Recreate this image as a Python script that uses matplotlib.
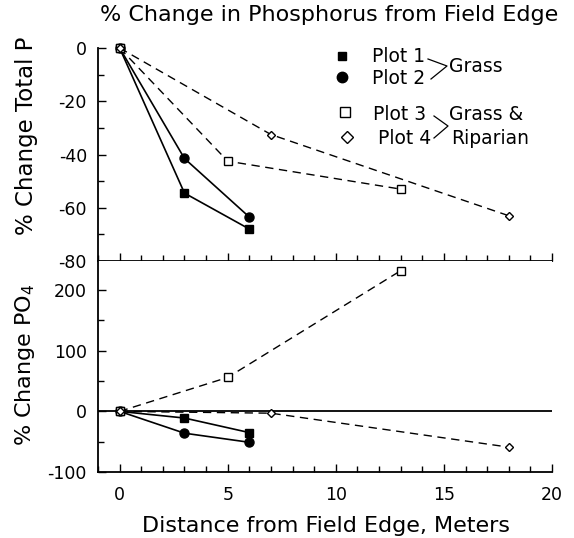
import matplotlib
matplotlib.use("Agg")
from matplotlib import pyplot as plt
from matplotlib.ticker import MultipleLocator

plt.rcParams['font.family'] = ['DejaVu Sans']
plt.rcParams['axes.unicode_minus'] = False

# distances (m) for each plot
dist_1 = [0, 3, 6]
dist_2 = [0, 3, 6]
dist_3 = [0, 5, 13]
dist_4 = [0, 7, 18]

# % change total P
total_p_1 = [0, -54.5, -68]
total_p_2 = [0, -41.5, -63.5]
total_p_3 = [0, -42.5, -53]
total_p_4 = [0, -32.5, -63]

# % change PO4
po4_1 = [0, -11, -35]
po4_2 = [0, -36, -51]
po4_3 = [0, 56, 232]
po4_4 = [0, -3, -59]

x_ticks = [0, 5, 10, 15, 20]
top_yticks = [0, -20, -40, -60, -80]
bottom_yticks = [-100, 0, 100, 200]

W, H = 574, 538
fig = plt.figure(figsize=(W / 100, H / 100), dpi=100)
x0, x1 = 98, 552
ax_top = fig.add_axes([x0 / W, 1 - 261 / H, (x1 - x0) / W, 213 / H])
ax_bot = fig.add_axes([x0 / W, 1 - 472 / H, (x1 - x0) / W, 211 / H])

dash = (0, (6, 4))


def draw_series(ax, p1, p2, p3, p4):
    ax.plot(dist_1, p1, color='black', lw=1.2, marker='s', ms=5.5, mfc='black', clip_on=False, zorder=5)
    ax.plot(dist_2, p2, color='black', lw=1.2, marker='o', ms=6.5, mfc='black', clip_on=False, zorder=5)
    ax.plot(dist_3, p3, color='black', lw=1.0, ls=dash, marker='s', ms=6,
            mfc='white', mew=1.0, clip_on=False, zorder=5)
    ax.plot(dist_4, p4, color='black', lw=1.0, ls=dash, marker='D', ms=4.5,
            mfc='white', mew=1.0, clip_on=False, zorder=5)


draw_series(ax_top, total_p_1, total_p_2, total_p_3, total_p_4)
draw_series(ax_bot, po4_1, po4_2, po4_3, po4_4)
ax_bot.axhline(0, color='black', lw=1.3, zorder=1)

for ax in (ax_top, ax_bot):
    ax.set_xlim(-1, 20)
    ax.xaxis.set_minor_locator(MultipleLocator(1))
    ax.set_xticks(x_ticks)
    ax.spines['right'].set_visible(False)
    ax.spines['top'].set_visible(False)
    ax.spines['left'].set_linewidth(1.3)
    ax.spines['bottom'].set_linewidth(1.3)
    ax.tick_params(which='both', direction='in', labelsize=12.5, width=1)
    ax.tick_params(which='major', length=6)
    ax.tick_params(which='minor', length=4)
    ax.tick_params(axis='y', pad=8)

ax_top.set_ylim(-80, 0)
ax_top.set_yticks(top_yticks)
ax_top.yaxis.set_minor_locator(MultipleLocator(10))
ax_top.tick_params(axis='x', labelbottom=False)

ax_bot.set_ylim(-100, 248)
ax_bot.set_yticks(bottom_yticks)
ax_bot.yaxis.set_minor_locator(MultipleLocator(50))
ax_bot.tick_params(axis='x', pad=10)

fig.text(27 / W, 1 - 136 / H, '% Change Total P', rotation=90,
         ha='center', va='center', fontsize=16.5)
fig.text(25 / W, 1 - 365 / H, '% Change PO$_4$', rotation=90,
         ha='center', va='center', fontsize=16)
fig.text(326 / W, 1 - 526 / H, 'Distance from Field Edge, Meters',
         ha='center', va='center', fontsize=16)
fig.text(329 / W, 1 - 15 / H, '% Change in Phosphorus from Field Edge',
         ha='center', va='center', fontsize=16)

# legend drawn by hand, positions in pixels of the top panel
leg = ax_top.transAxes
px = lambda x: (x - x0) / (x1 - x0)
py = lambda y: (261 - y) / 213
ax_top.plot([px(342)], [py(56)], 's', color='black', ms=6, transform=leg, clip_on=False)
ax_top.plot([px(342)], [py(77)], 'o', color='black', ms=7.5, transform=leg, clip_on=False)
ax_top.plot([px(345)], [py(112)], 's', color='black', mfc='white', ms=7.5, transform=leg, clip_on=False)
ax_top.plot([px(347)], [py(137)], 'D', color='black', mfc='white', ms=6, transform=leg, clip_on=False)
fs = 13.5
ax_top.text(px(372), py(57), 'Plot 1', transform=leg, fontsize=fs, va='center')
ax_top.text(px(372), py(79), 'Plot 2', transform=leg, fontsize=fs, va='center')
ax_top.text(px(373), py(115), 'Plot 3', transform=leg, fontsize=fs, va='center')
ax_top.text(px(378), py(138), 'Plot 4', transform=leg, fontsize=fs, va='center')
ax_top.text(px(449), py(66), 'Grass', transform=leg, fontsize=fs, va='center')
ax_top.text(px(449), py(115), 'Grass &', transform=leg, fontsize=fs, va='center')
ax_top.text(px(451), py(138), 'Riparian', transform=leg, fontsize=fs, va='center')
ax_top.plot([px(428), px(447), px(431)], [py(59), py(66), py(79)], color='black', lw=0.9,
            transform=leg, clip_on=False)
ax_top.plot([px(434), px(448), px(434)], [py(116), py(126), py(138)], color='black', lw=0.9,
            transform=leg, clip_on=False)

fig.savefig('out.png', dpi=100)
